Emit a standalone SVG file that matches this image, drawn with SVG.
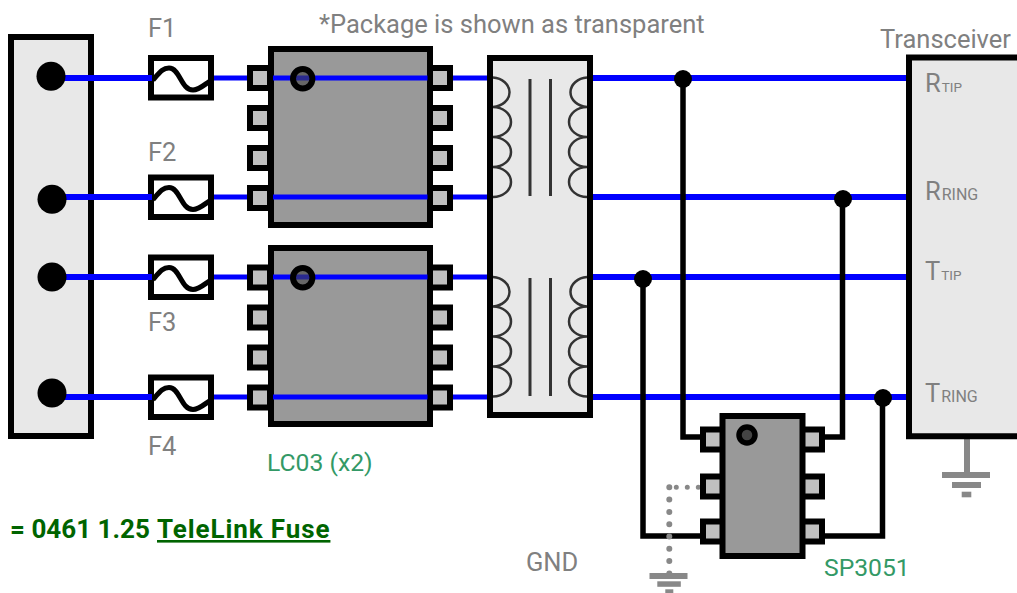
<svg xmlns="http://www.w3.org/2000/svg" width="1017" height="593" viewBox="0 0 1017 593">
<style>
text{font-family:Roboto,"Liberation Sans",sans-serif}
.lbl{fill:#808080;font-size:25.500px}
.grn{fill:#339966;font-size:24.700px}
.sub{font-size:16px}
.sub2{font-size:13.500px}
.box{fill:#e8e8e8;stroke:#000;stroke-width:6}
.chip{fill:#999;stroke:#000;stroke-width:6}
.pin{fill:#c0c0c0;stroke:#000;stroke-width:6}
.fuse{fill:#fff;stroke:#000;stroke-width:6}
.sine{fill:none;stroke:#000;stroke-width:5}
.bw{fill:none;stroke:#0000ff;stroke-width:6}
.bt{fill:none;stroke:#0000ff;stroke-width:5}
.k{fill:none;stroke:#000;stroke-width:5.500}
.coil{fill:none;stroke:#333;stroke-width:2.500}
.core{fill:none;stroke:#333;stroke-width:3}
.g{fill:#888}
.ring{fill-opacity:.6;fill:#444;stroke:#000;stroke-width:6}
.dot{fill:none;stroke:#888;stroke-linecap:round}
</style>
<defs>
<g id="pins"><rect class="pin" x="250" y="68" width="20" height="20"/><rect class="pin" x="250" y="108" width="20" height="20"/><rect class="pin" x="250" y="148" width="20" height="20"/><rect class="pin" x="250" y="188" width="20" height="20"/><rect class="pin" x="430" y="68" width="20" height="20"/><rect class="pin" x="430" y="108" width="20" height="20"/><rect class="pin" x="430" y="148" width="20" height="20"/><rect class="pin" x="430" y="188" width="20" height="20"/></g>
<g id="fuseshape"><rect class="fuse" x="151" y="58" width="60" height="39.500"/><path class="sine" d="M153 80C160 72 163 68 169 68C180 68 181 90 193 90C199 90 204 85 210 81"/></g>
<path id="coils" class="coil" d="M493 77.500A18 14.800 0 0 1 493 107A18 15 0 0 1 493 137A18 15 0 0 1 493 167A18 15 0 0 1 493 197M587 77.500A18 14.800 0 0 0 587 107A18 15 0 0 0 587 137A18 15 0 0 0 587 167A18 15 0 0 0 587 197"/>
</defs>
<g id="connector-box"><rect class="box" x="11" y="37" width="80" height="399"/></g>
<g id="fuse-f1"><use href="#fuseshape"/></g>
<g id="fuse-f2"><use href="#fuseshape" y="119.500"/></g>
<g id="fuse-f3"><use href="#fuseshape" y="199.500"/></g>
<g id="fuse-f4"><use href="#fuseshape" y="319.500"/></g>
<g id="connectors">
<path class="bw" d="M60 78H152M590 78H910"/><path class="bt" d="M214 78H250M432 78H490"/>
<path class="bw" d="M60 197H152M590 197H910"/><path class="bt" d="M214 197H250M432 197H490"/>
<path class="bw" d="M60 277H152M590 277H910"/><path class="bt" d="M214 277H250M432 277H490"/>
<path class="bw" d="M60 397H152M590 397H910"/><path class="bt" d="M214 397H250M432 397H490"/>
<path class="k" d="M683 78V437H703"/>
<path class="k" d="M842.500 198V437H823"/>
<path class="k" d="M643 278V536H703"/>
<path class="k" d="M882.500 398V536H823"/>
<path class="dot" d="M698.300 487.300H669.300" stroke-width="5" stroke-dasharray="0 11"/>
<path class="dot" d="M669.300 487.300V574" stroke-width="6" stroke-dasharray="0 12.300"/>
<path d="M967 439V473" fill="none" stroke="#888" stroke-width="6"/>
</g>
<g id="port-dots">
<circle cx="51" cy="76.300" r="14.500"/><circle cx="52" cy="199.300" r="14.500"/><circle cx="52" cy="277" r="14.500"/><circle cx="52" cy="393" r="14.500"/>
</g>
<g id="lc03-a"><use href="#pins"/><rect class="chip" x="271" y="49" width="159" height="176"/><path class="bt" d="M273 78H427.500M273 197H427.500"/><circle class="ring" cx="302.700" cy="78.700" r="9.700"/></g>
<g id="lc03-b"><use href="#pins" y="199.500"/><rect class="chip" x="271" y="248" width="159" height="176"/><path class="bt" d="M273 277H427.500M273 397H427.500"/><circle class="ring" cx="302.700" cy="277.700" r="9.700"/></g>
<g id="transformer"><rect class="box" x="490" y="58" width="100" height="357"/><use href="#coils"/><use href="#coils" y="199.500"/><path class="core" d="M530 79V196M550.500 79V196M530 278V396M550.500 278V396"/></g>
<g id="sp3051">
<rect class="pin" x="703" y="429.500" width="20" height="20"/><rect class="pin" x="703" y="476.500" width="20" height="20"/><rect class="pin" x="703" y="521.500" width="20" height="20"/>
<rect class="pin" x="802" y="429.500" width="20" height="20"/><rect class="pin" x="802" y="476.500" width="20" height="20"/><rect class="pin" x="802" y="521.500" width="20" height="20"/>
<rect class="chip" x="722.500" y="416" width="80" height="140"/>
<circle cx="747" cy="435" r="8" fill="#444" stroke="#000" stroke-width="5.500"/>
</g>
<g id="junctions"><circle cx="683" cy="79" r="9"/><circle cx="843" cy="199" r="9"/><circle cx="643" cy="279" r="9"/><circle cx="883" cy="398" r="9"/></g>
<g id="transceiver"><path class="box" d="M1030 57.500H909V436.300H1030"/></g>
<g id="gnd-left"><rect class="g" x="649.500" y="573" width="38" height="6"/><rect class="g" x="657.300" y="581.300" width="23.500" height="5.500"/><rect class="g" x="665.300" y="589.300" width="8" height="4"/></g>
<g id="gnd-right"><rect class="g" x="942" y="472" width="48" height="6"/><rect class="g" x="952" y="482" width="29" height="6"/><rect class="g" x="961.700" y="491.700" width="9.600" height="5.600"/></g>
<g id="labels">
<text class="lbl" x="148" y="37">F1</text><text class="lbl" x="148" y="160.500">F2</text><text class="lbl" x="148" y="331">F3</text><text class="lbl" x="148" y="455">F4</text>
<text class="lbl" x="319" y="33">*Package is shown as transparent</text>
<text class="lbl" x="880" y="48">Transceiver</text>
<text class="lbl" x="925" y="92">R<tspan class="sub2" dx="1">TIP</tspan></text>
<text class="lbl" x="925" y="200">R<tspan class="sub" dx="1">RING</tspan></text>
<text class="lbl" x="925" y="280">T<tspan class="sub2" dx="1">TIP</tspan></text>
<text class="lbl" x="925" y="402">T<tspan class="sub" dx="1">RING</tspan></text>
<text class="lbl" x="526" y="571">GND</text>
<text class="grn" x="267" y="470.700">LC03 (x2)</text>
<text class="grn" x="824" y="575.700">SP3051</text>
<text x="10" y="538" fill="#006400" font-size="26" font-weight="700">= 0461 1.25</text>
<text x="157" y="538" fill="#006400" font-size="26" font-weight="700" letter-spacing=".9" text-decoration="underline">TeleLink Fuse</text>
</g>
</svg>
